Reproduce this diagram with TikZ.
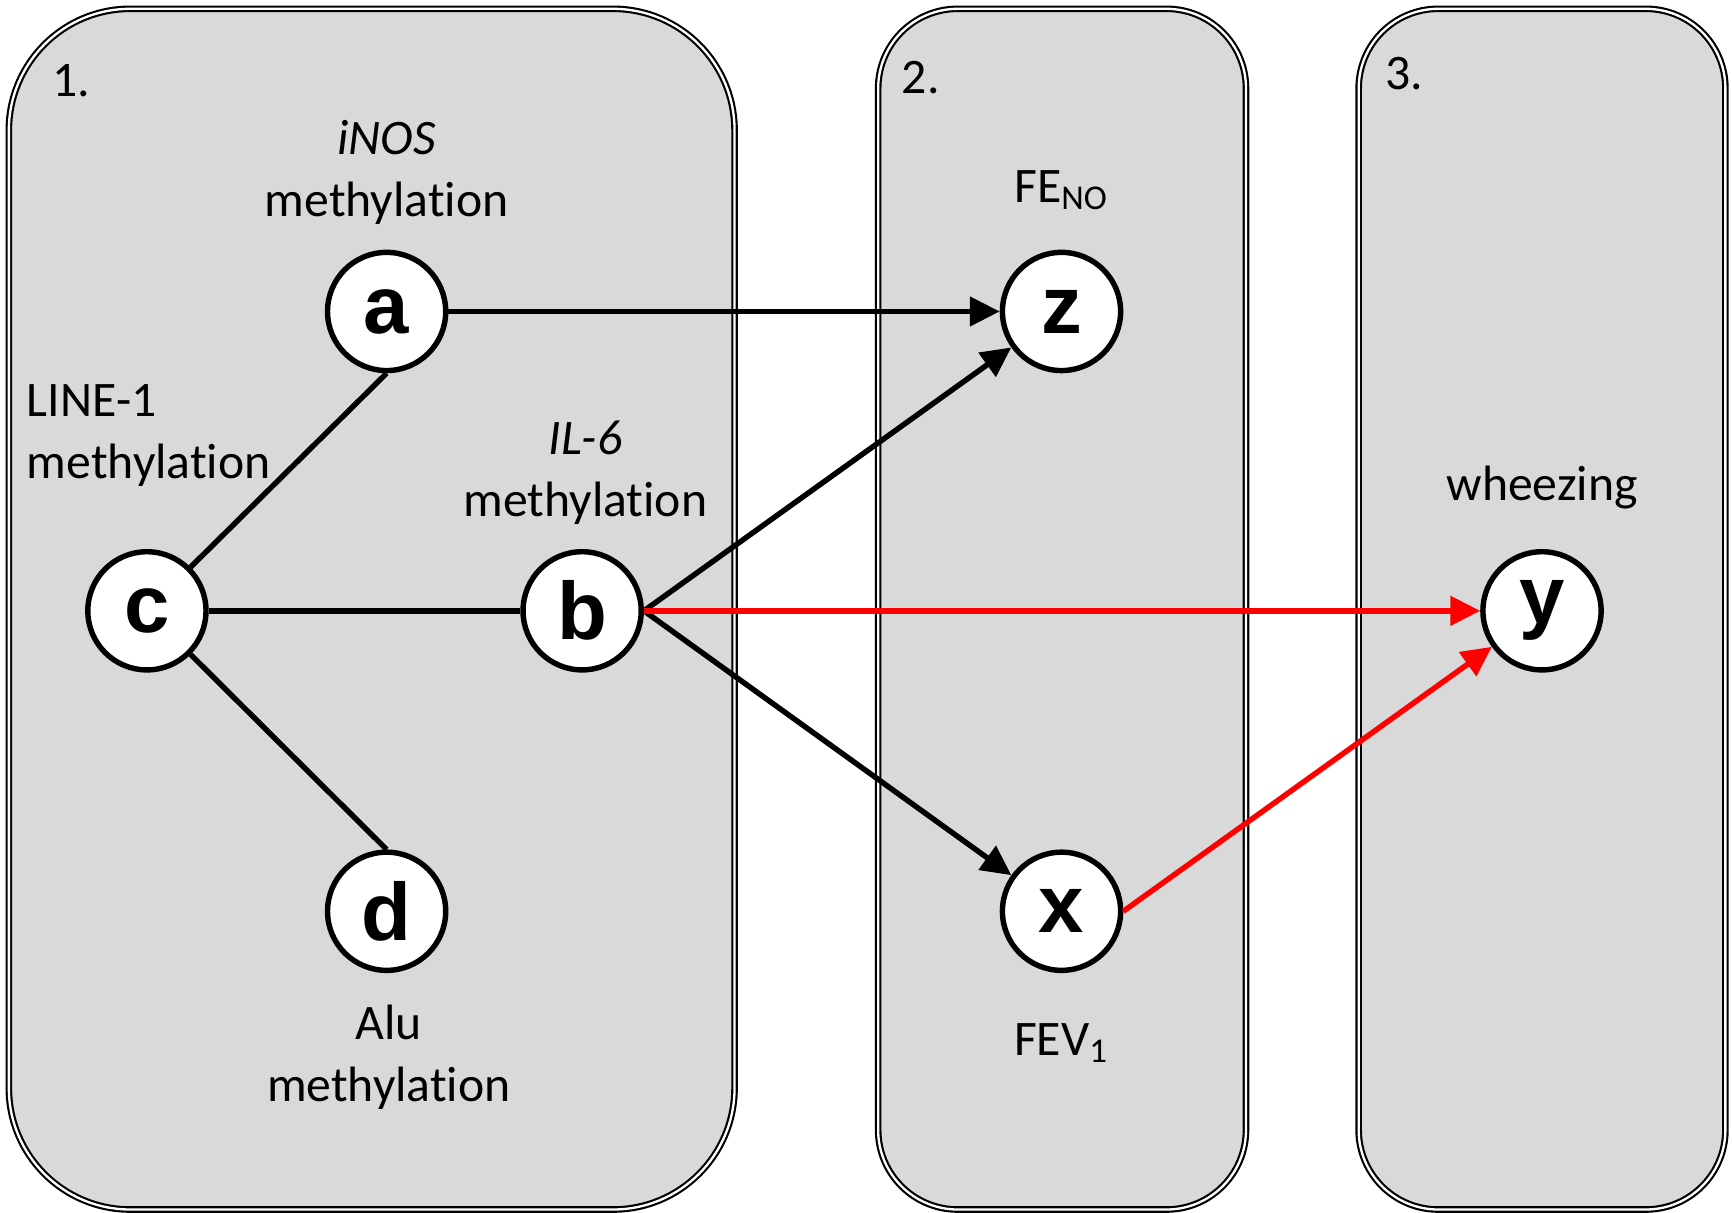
\documentclass[tikz,border=0pt]{standalone}
\usepackage{fontspec}
\setmainfont{Carlito}[Ligatures=NoCommon]
\newfontfamily\varfont{Liberation Sans}
\usetikzlibrary{arrows.meta}
\definecolor{panelgray}{HTML}{D9D9D9}

\begin{document}
\begin{tikzpicture}[
  panel/.style={draw=black, line width=0.55pt, double=white, double distance=0.6pt, fill=panelgray},
  var/.style={circle, draw, line width=1.4pt, fill=white, minimum size=1.07cm, inner sep=0pt,
    font=\varfont\bfseries\fontsize{21}{21}\selectfont},
  lbl/.style={align=center, font=\fontsize{12.8}{16}\selectfont},
  link/.style={line width=1.4pt},
  arr/.style={line width=1.4pt, -{Triangle[length=2.7mm,width=2.6mm]}}
]
\useasboundingbox (0,0) rectangle (15.68,10.98);

% panels
\draw[panel, rounded corners=1.1cm] (0.08,0.03) rectangle (6.65,10.90);
\draw[panel, rounded corners=0.72cm] (7.95,0.03) rectangle (11.28,10.90);
\draw[panel, rounded corners=0.72cm] (12.30,0.03) rectangle (15.62,10.90);

\node[lbl, anchor=west] (n1) at (0.35,10.25) {1.};
\node[lbl, anchor=west] (n2) at (8.04,10.28) {2.};
\node[lbl, anchor=west] (n3) at (12.42,10.31) {3.};

% variables
\node[var] (a) at (3.50,8.16) {a};
\node[var] (c) at (1.33,5.45) {c};
\node[var] (b) at (5.27,5.45) {b};
\node[var] (d) at (3.50,2.73) {d};
\node[var] (z) at (9.61,8.16) {z};
\node[var] (x) at (9.61,2.73) {x};
\node[var] (y) at (13.96,5.45) {y};

% labels
\node[lbl] (la) at (3.50,9.42) {\textit{iNOS}\\methylation};
\node[lbl, anchor=west, align=left] (lc) at (0.12,7.04) {LINE-1\\methylation};
\node[lbl] (lb) at (5.30,6.70) {\textit{IL-6}\\methylation};
\node[lbl] (ld) at (3.52,1.41) {Alu\\methylation};
\node[lbl] (lz) at (9.61,9.26) {FE\textsubscript{NO}};
\node[lbl] (lx) at (9.61,1.54) {FEV\textsubscript{1}};
\node[lbl] (ly) at (13.96,6.57) {wheezing};

% connectors
\draw[link] (c.north east) -- (a.south);
\draw[link] (c) -- (b);
\draw[link] (c.south east) -- (d.north);
\draw[arr] (a) -- (z);
\draw[arr] (b.east) -- (z);
\draw[arr] (b.east) -- (x);
\draw[arr, red] (b) -- (y);
\draw[arr, red] (x.east) -- (y);
\end{tikzpicture}
\end{document}
